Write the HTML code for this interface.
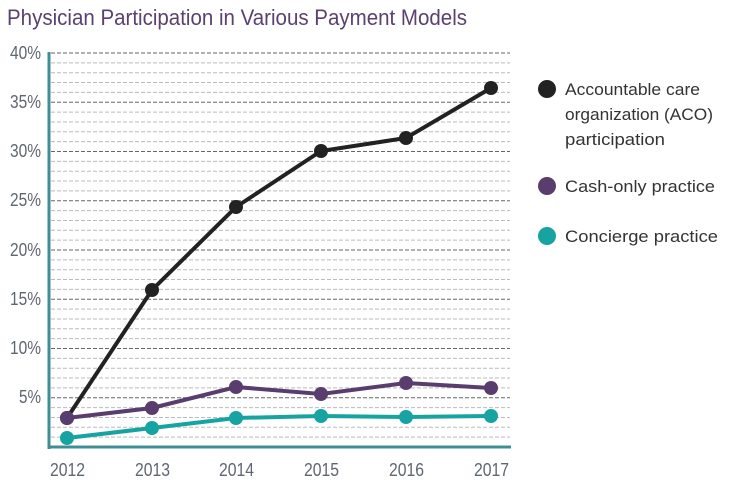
<!DOCTYPE html>
<html><head><style>body{margin:0;background:#fff}</style></head><body>
<svg width="734" height="489" xmlns="http://www.w3.org/2000/svg" font-family="Liberation Sans, sans-serif">
<text x="7" y="25" font-size="22" fill="#5b4170" textLength="460" lengthAdjust="spacingAndGlyphs">Physician Participation in Various Payment Models</text>
<g stroke-dasharray="4,2" stroke-width="1">
<g stroke="#666">
<line x1="51" x2="510" y1="53" y2="53"/><line x1="51" x2="510" y1="102.25" y2="102.25"/><line x1="51" x2="510" y1="151.5" y2="151.5"/><line x1="51" x2="510" y1="200.75" y2="200.75"/><line x1="51" x2="510" y1="250" y2="250"/><line x1="51" x2="510" y1="299.25" y2="299.25"/><line x1="51" x2="510" y1="348.5" y2="348.5"/><line x1="51" x2="510" y1="397.75" y2="397.75"/>
</g>
<g stroke="#bbb">
<line x1="51" x2="510" y1="62.85" y2="62.85"/><line x1="51" x2="510" y1="72.7" y2="72.7"/><line x1="51" x2="510" y1="82.55" y2="82.55"/><line x1="51" x2="510" y1="92.4" y2="92.4"/>
<line x1="51" x2="510" y1="112.1" y2="112.1"/><line x1="51" x2="510" y1="121.95" y2="121.95"/><line x1="51" x2="510" y1="131.8" y2="131.8"/><line x1="51" x2="510" y1="141.65" y2="141.65"/>
<line x1="51" x2="510" y1="161.35" y2="161.35"/><line x1="51" x2="510" y1="171.2" y2="171.2"/><line x1="51" x2="510" y1="181.05" y2="181.05"/><line x1="51" x2="510" y1="190.9" y2="190.9"/>
<line x1="51" x2="510" y1="210.6" y2="210.6"/><line x1="51" x2="510" y1="220.45" y2="220.45"/><line x1="51" x2="510" y1="230.3" y2="230.3"/><line x1="51" x2="510" y1="240.15" y2="240.15"/>
<line x1="51" x2="510" y1="259.85" y2="259.85"/><line x1="51" x2="510" y1="269.7" y2="269.7"/><line x1="51" x2="510" y1="279.55" y2="279.55"/><line x1="51" x2="510" y1="289.4" y2="289.4"/>
<line x1="51" x2="510" y1="309.1" y2="309.1"/><line x1="51" x2="510" y1="318.95" y2="318.95"/><line x1="51" x2="510" y1="328.8" y2="328.8"/><line x1="51" x2="510" y1="338.65" y2="338.65"/>
<line x1="51" x2="510" y1="358.35" y2="358.35"/><line x1="51" x2="510" y1="368.2" y2="368.2"/><line x1="51" x2="510" y1="378.05" y2="378.05"/><line x1="51" x2="510" y1="387.9" y2="387.9"/>
<line x1="51" x2="510" y1="407.6" y2="407.6"/><line x1="51" x2="510" y1="417.45" y2="417.45"/><line x1="51" x2="510" y1="427.3" y2="427.3"/><line x1="51" x2="510" y1="437.15" y2="437.15"/>
</g>
</g>
<line x1="49" y1="52" x2="49" y2="449" stroke="#3f8e94" stroke-width="3"/>
<line x1="48" y1="447" x2="511" y2="447" stroke="#3f8e94" stroke-width="3"/>
<g font-size="18" fill="#5f6670" lengthAdjust="spacingAndGlyphs">
<text x="10" y="59" textLength="31" lengthAdjust="spacingAndGlyphs">40%</text><text x="10" y="108" textLength="31" lengthAdjust="spacingAndGlyphs">35%</text><text x="10" y="157" textLength="31" lengthAdjust="spacingAndGlyphs">30%</text><text x="10" y="206" textLength="31" lengthAdjust="spacingAndGlyphs">25%</text><text x="10" y="256" textLength="31" lengthAdjust="spacingAndGlyphs">20%</text><text x="10" y="305" textLength="31" lengthAdjust="spacingAndGlyphs">15%</text><text x="10" y="354" textLength="31" lengthAdjust="spacingAndGlyphs">10%</text><text x="19" y="403" textLength="22" lengthAdjust="spacingAndGlyphs">5%</text>
</g>
<g font-size="18" fill="#5f6670">
<text x="50" y="476" textLength="35" lengthAdjust="spacingAndGlyphs">2012</text><text x="135" y="476" textLength="35" lengthAdjust="spacingAndGlyphs">2013</text><text x="219" y="476" textLength="35" lengthAdjust="spacingAndGlyphs">2014</text><text x="304" y="476" textLength="35" lengthAdjust="spacingAndGlyphs">2015</text><text x="389" y="476" textLength="35" lengthAdjust="spacingAndGlyphs">2016</text><text x="474" y="476" textLength="35" lengthAdjust="spacingAndGlyphs">2017</text>
</g>
<polyline points="67,418 152,290 236,207 321,151 406,138 491,88" fill="none" stroke="#222" stroke-width="4"/>
<polyline points="67,418 152,408 236,387 321,394 406,383 491,388" fill="none" stroke="#5a3d6f" stroke-width="4"/>
<polyline points="67,438 152,428 236,418 321,416 406,417 491,416" fill="none" stroke="#18a3a3" stroke-width="4"/>
<g fill="#222"><circle cx="67" cy="418" r="7"/><circle cx="152" cy="290" r="7"/><circle cx="236" cy="207" r="7"/><circle cx="321" cy="151" r="7"/><circle cx="406" cy="138" r="7"/><circle cx="491" cy="88" r="7"/></g>
<g fill="#5a3d6f"><circle cx="67" cy="418" r="7"/><circle cx="152" cy="408" r="7"/><circle cx="236" cy="387" r="7"/><circle cx="321" cy="394" r="7"/><circle cx="406" cy="383" r="7"/><circle cx="491" cy="388" r="7"/></g>
<g fill="#18a3a3"><circle cx="67" cy="438" r="7"/><circle cx="152" cy="428" r="7"/><circle cx="236" cy="418" r="7"/><circle cx="321" cy="416" r="7"/><circle cx="406" cy="417" r="7"/><circle cx="491" cy="416" r="7"/></g>
<circle cx="547" cy="89" r="9" fill="#222"/>
<circle cx="547" cy="186" r="9" fill="#5a3d6f"/>
<circle cx="547" cy="236" r="9" fill="#18a3a3"/>
<g font-size="17" fill="#333">
<text x="565" y="95" textLength="135" lengthAdjust="spacingAndGlyphs">Accountable care</text><text x="565" y="120" textLength="148" lengthAdjust="spacingAndGlyphs">organization (ACO)</text><text x="565" y="145" textLength="100" lengthAdjust="spacingAndGlyphs">participation</text>
<text x="565" y="192" textLength="150" lengthAdjust="spacingAndGlyphs">Cash-only practice</text>
<text x="565" y="242" textLength="153" lengthAdjust="spacingAndGlyphs">Concierge practice</text>
</g>
</svg>
</body></html>
